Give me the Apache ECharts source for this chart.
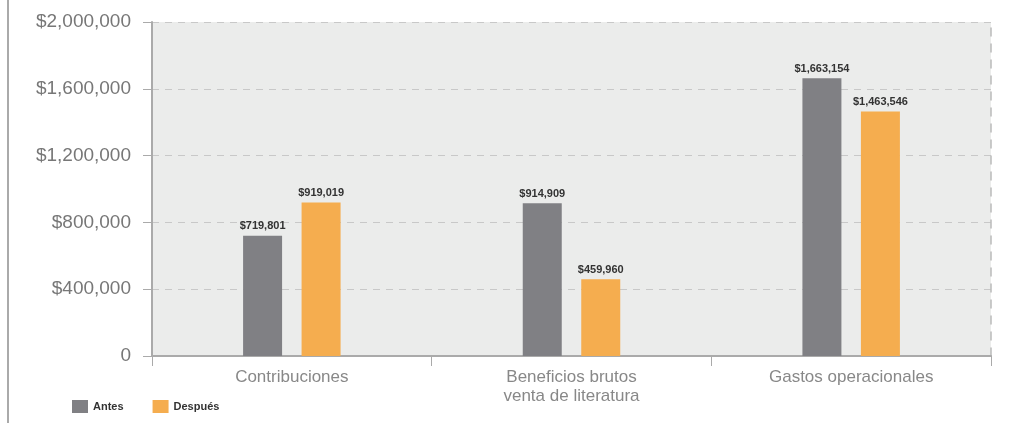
<!DOCTYPE html>
<html>
<head>
<meta charset="utf-8">
<script src="https://cdn.jsdelivr.net/npm/echarts@6/dist/echarts.min.js"></script>
<style>
html,body{margin:0;padding:0;background:#fff;}
#chart{width:1019px;height:423px;}
</style>
</head>
<body>
<div id="chart"></div>
<script>
const categories = ['Contribuciones', 'Beneficios brutos\nventa de literatura', 'Gastos operacionales'];
const antes = [719801, 914909, 1663154];
const despues = [919019, 459960, 1463546];
const yTicks = [0, 400000, 800000, 1200000, 1600000, 2000000];

function money(v) {
  return '$' + v.toString().replace(/\B(?=(\d{3})+(?!\d))/g, ',');
}
const font = '"Liberation Sans", Arial, sans-serif';

const chart = echarts.init(document.getElementById('chart'));
const labelStyle = {
  show: true, position: 'top', distance: 4,
  formatter: p => money(p.value),
  color: '#333', fontSize: 11, fontWeight: 'bold',
  fontFamily: font
};
chart.setOption({
  animation: false,
  backgroundColor: '#fff',
  grid: {
    left: 152, right: 28, top: 22, bottom: 67,
    show: true, backgroundColor: '#ebeceb', borderWidth: 0
  },
  legend: {
    left: 72, top: 400, padding: 0,
    itemWidth: 16, itemHeight: 13, itemGap: 29,
    icon: 'rect',
    textStyle: { color: '#333', fontSize: 11, fontFamily: font, fontWeight: 'bold' },
    data: ['Antes', 'Después']
  },
  xAxis: {
    type: 'category',
    data: categories,
    axisLine: { show: true, lineStyle: { color: '#aaa', width: 2 } },
    axisTick: { show: true, length: 10, lineStyle: { color: '#aaa', width: 1 } },
    axisLabel: {
      color: '#888', fontSize: 17, lineHeight: 19, margin: 12,
      fontFamily: font
    },
    splitLine: { show: false }
  },
  yAxis: [{
    type: 'value',
    min: 0, max: 2000000, interval: 400000,
    axisLine: { show: true, lineStyle: { color: '#aaa', width: 2 } },
    axisTick: { show: true, length: 9, lineStyle: { color: '#aaa', width: 1 } },
    axisLabel: {
      margin: 21, color: '#777', fontSize: 19, fontFamily: font,
      formatter: v => v === 0 ? '0' : money(v)
    },
    splitLine: { show: true, lineStyle: { color: '#c8c8c8', type: [7, 6], width: 1 } }
  }, {
    type: 'value', position: 'right',
    min: 0, max: 2000000, interval: 400000,
    axisLine: { show: true, lineStyle: { color: '#bbb', type: [8, 8], width: 1.5 } },
    axisTick: { show: false }, axisLabel: { show: false }, splitLine: { show: false }
  }],
  series: [{
    name: 'Antes', type: 'bar', data: antes,
    barWidth: 39, barGap: '50%',
    itemStyle: { color: '#808084' },
    label: labelStyle
  }, {
    name: 'Después', type: 'bar', data: despues,
    barWidth: 39,
    itemStyle: { color: '#f5ad4f' },
    label: labelStyle
  }],
  graphic: [{
    type: 'line', silent: true,
    shape: { x1: 8, y1: 0, x2: 8, y2: 423 },
    style: { stroke: '#aaa', lineWidth: 2 }
  }]
});
</script>
</body>
</html>
